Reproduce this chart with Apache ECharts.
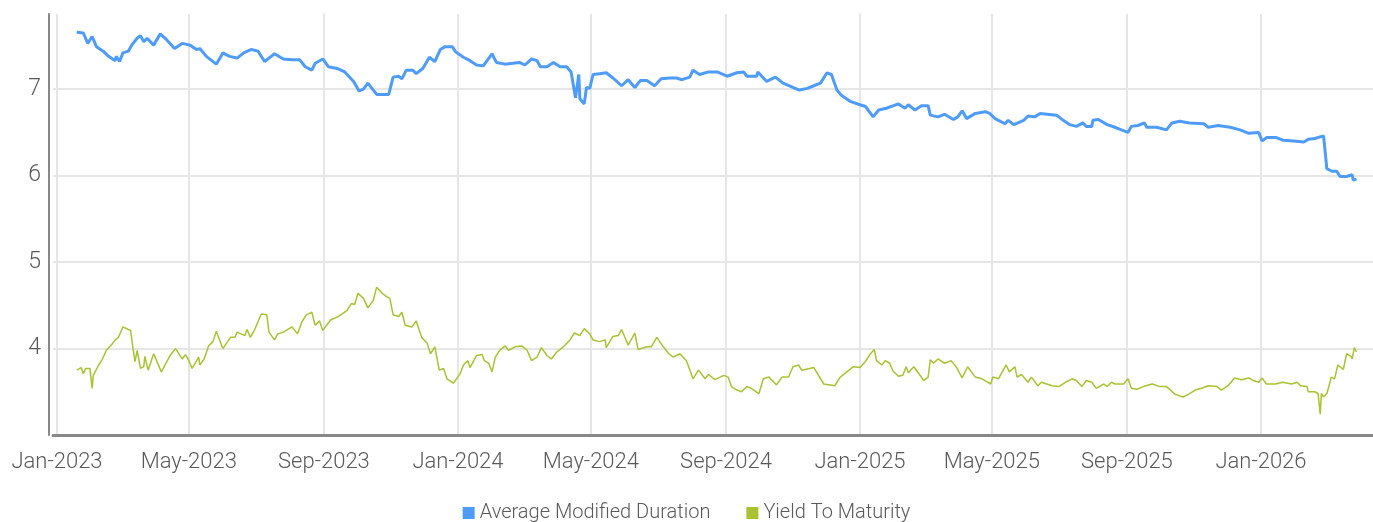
<!DOCTYPE html>
<html>
<head>
<meta charset="utf-8">
<title>Duration and Yield</title>
<script src="https://cdn.jsdelivr.net/npm/echarts@6/dist/echarts.min.js"></script>
<style>
  html, body { margin: 0; padding: 0; background: #fff; }
  #main { width: 1373px; height: 522px; }
</style>
</head>
<body>
<div id="main"></div>
<script>
// series names
var seriesNames = ['Average Modified Duration', 'Yield To Maturity'];

// average modified duration
var durDates = [
  '2023-01-19','2023-01-25','2023-01-29','2023-02-02','2023-02-06','2023-02-12','2023-02-17','2023-02-23','2023-02-24','2023-02-27',
  '2023-03-02','2023-03-07','2023-03-10','2023-03-15','2023-03-18','2023-03-21','2023-03-24','2023-03-30','2023-04-05','2023-04-11',
  '2023-04-18','2023-04-25','2023-05-02','2023-05-08','2023-05-11','2023-05-17','2023-05-26','2023-06-01','2023-06-07','2023-06-14',
  '2023-06-20','2023-06-27','2023-07-03','2023-07-09','2023-07-15','2023-07-18','2023-07-26','2023-08-03','2023-08-10','2023-08-15',
  '2023-08-21','2023-08-24','2023-08-31','2023-09-05','2023-09-13','2023-09-20','2023-09-28','2023-10-03','2023-10-07','2023-10-11',
  '2023-10-19','2023-10-30','2023-11-03','2023-11-08','2023-11-11','2023-11-15','2023-11-21','2023-11-24','2023-11-30','2023-12-06',
  '2023-12-11','2023-12-16','2023-12-20','2023-12-27','2023-12-30','2024-01-06','2024-01-12','2024-01-18','2024-01-24','2024-02-01',
  '2024-02-05','2024-02-13','2024-02-20','2024-02-26','2024-03-02','2024-03-08','2024-03-13','2024-03-16','2024-03-22','2024-03-28',
  '2024-04-03','2024-04-09','2024-04-13','2024-04-17','2024-04-20','2024-04-21','2024-04-25','2024-04-27','2024-04-30','2024-05-03',
  '2024-05-09','2024-05-15','2024-05-21','2024-05-29','2024-06-04','2024-06-10','2024-06-15','2024-06-21','2024-06-28','2024-07-04',
  '2024-07-12','2024-07-18','2024-07-23','2024-07-30','2024-08-02','2024-08-08','2024-08-16','2024-08-24','2024-09-02','2024-09-11',
  '2024-09-17','2024-09-20','2024-09-29','2024-09-30','2024-10-08','2024-10-16','2024-10-23','2024-11-01','2024-11-07','2024-11-14',
  '2024-11-20','2024-11-26','2024-12-02','2024-12-06','2024-12-11','2024-12-15','2024-12-23','2025-01-01','2025-01-06','2025-01-13',
  '2025-01-18','2025-01-25','2025-02-05','2025-02-11','2025-02-14','2025-02-20','2025-02-26','2025-03-04','2025-03-06','2025-03-13',
  '2025-03-19','2025-03-27','2025-03-31','2025-04-04','2025-04-08','2025-04-16','2025-04-25','2025-04-29','2025-05-04','2025-05-13',
  '2025-05-16','2025-05-21','2025-05-30','2025-06-03','2025-06-09','2025-06-14','2025-06-29','2025-07-05','2025-07-11','2025-07-17',
  '2025-07-23','2025-07-26','2025-07-31','2025-08-01','2025-08-06','2025-08-14','2025-08-21','2025-08-27','2025-09-02','2025-09-05',
  '2025-09-11','2025-09-17','2025-09-19','2025-09-28','2025-10-07','2025-10-12','2025-10-19','2025-10-28','2025-11-10','2025-11-14',
  '2025-11-23','2025-12-04','2025-12-13','2025-12-21','2025-12-30','2026-01-02','2026-01-06','2026-01-15','2026-01-21','2026-01-31',
  '2026-02-09','2026-02-13','2026-02-19','2026-02-27','2026-03-02','2026-03-07','2026-03-11','2026-03-14','2026-03-20','2026-03-25',
  '2026-03-26','2026-03-29'
];
var durValues = [
  7.66,7.65,7.53,7.61,7.49,7.44,7.38,7.33,7.38,7.32,
  7.42,7.44,7.51,7.59,7.62,7.55,7.59,7.51,7.64,7.57,
  7.47,7.53,7.51,7.46,7.47,7.38,7.29,7.42,7.38,7.36,
  7.42,7.46,7.44,7.32,7.38,7.41,7.35,7.34,7.34,7.26,
  7.22,7.30,7.35,7.26,7.24,7.20,7.09,6.98,7.00,7.07,
  6.94,6.94,7.14,7.15,7.12,7.22,7.22,7.18,7.24,7.37,
  7.32,7.46,7.49,7.49,7.43,7.37,7.33,7.28,7.27,7.41,
  7.31,7.29,7.30,7.31,7.28,7.35,7.33,7.26,7.26,7.31,
  7.26,7.26,7.20,6.90,7.17,6.89,6.83,7.02,7.01,7.17,
  7.18,7.19,7.13,7.04,7.11,7.02,7.10,7.10,7.04,7.12,
  7.13,7.13,7.11,7.14,7.22,7.17,7.20,7.20,7.15,7.19,
  7.20,7.15,7.15,7.20,7.09,7.14,7.07,7.02,6.99,7.01,
  7.04,7.07,7.19,7.17,6.99,6.93,6.86,6.82,6.80,6.68,
  6.76,6.78,6.83,6.78,6.82,6.76,6.81,6.81,6.70,6.68,
  6.71,6.65,6.68,6.75,6.66,6.72,6.74,6.72,6.66,6.60,
  6.64,6.59,6.64,6.69,6.68,6.72,6.70,6.64,6.59,6.57,
  6.61,6.57,6.57,6.64,6.65,6.59,6.56,6.53,6.50,6.57,
  6.58,6.61,6.56,6.56,6.53,6.61,6.63,6.61,6.60,6.56,
  6.58,6.56,6.53,6.49,6.50,6.40,6.44,6.44,6.41,6.40,
  6.39,6.42,6.43,6.46,6.08,6.05,6.05,5.99,5.99,6.01,
  5.95,5.96
];

// yield to maturity
var ytmDates = [
  '2023-01-19','2023-01-23','2023-01-25','2023-01-27','2023-01-31','2023-02-02','2023-02-03','2023-02-08','2023-02-11','2023-02-15',
  '2023-02-20','2023-02-23','2023-02-26','2023-03-02','2023-03-07','2023-03-09','2023-03-11','2023-03-13','2023-03-15','2023-03-18',
  '2023-03-21','2023-03-22','2023-03-25','2023-03-30','2023-04-06','2023-04-14','2023-04-19','2023-04-25','2023-04-28','2023-05-01',
  '2023-05-04','2023-05-10','2023-05-11','2023-05-15','2023-05-19','2023-05-23','2023-05-26','2023-06-01','2023-06-08','2023-06-12',
  '2023-06-14','2023-06-21','2023-06-23','2023-06-26','2023-06-30','2023-07-06','2023-07-11','2023-07-13','2023-07-18','2023-07-21',
  '2023-07-26','2023-08-03','2023-08-08','2023-08-12','2023-08-16','2023-08-21','2023-08-24','2023-08-28','2023-08-31','2023-09-07',
  '2023-09-14','2023-09-22','2023-09-26','2023-09-29','2023-10-02','2023-10-07','2023-10-11','2023-10-16','2023-10-19','2023-10-24',
  '2023-10-28','2023-10-31','2023-11-03','2023-11-08','2023-11-11','2023-11-14','2023-11-20','2023-11-24','2023-11-29','2023-12-04',
  '2023-12-07','2023-12-11','2023-12-15','2023-12-19','2023-12-22','2023-12-28','2024-01-03','2024-01-06','2024-01-10','2024-01-12',
  '2024-01-18','2024-01-23','2024-01-25','2024-01-29','2024-02-01','2024-02-04','2024-02-08','2024-02-13','2024-02-16','2024-02-22',
  '2024-02-28','2024-03-04','2024-03-08','2024-03-13','2024-03-17','2024-03-22','2024-03-26','2024-03-31','2024-04-06','2024-04-12',
  '2024-04-16','2024-04-21','2024-04-25','2024-04-30','2024-05-03','2024-05-09','2024-05-14','2024-05-15','2024-05-21','2024-05-26',
  '2024-05-29','2024-06-04','2024-06-10','2024-06-13','2024-06-21','2024-06-25','2024-06-30','2024-07-06','2024-07-11','2024-07-15',
  '2024-07-21','2024-07-27','2024-08-02','2024-08-07','2024-08-13','2024-08-16','2024-08-22','2024-08-30','2024-09-03','2024-09-06',
  '2024-09-11','2024-09-15','2024-09-20','2024-09-24','2024-10-01','2024-10-05','2024-10-10','2024-10-17','2024-10-22','2024-10-28',
  '2024-11-01','2024-11-06','2024-11-09','2024-11-20','2024-11-29','2024-12-09','2024-12-14','2024-12-26','2025-01-01','2025-01-06',
  '2025-01-10','2025-01-14','2025-01-16','2025-01-21','2025-01-24','2025-01-28','2025-01-31','2025-02-05','2025-02-09','2025-02-12',
  '2025-02-14','2025-02-19','2025-02-23','2025-02-28','2025-03-04','2025-03-06','2025-03-09','2025-03-13','2025-03-19','2025-03-25',
  '2025-03-30','2025-04-04','2025-04-09','2025-04-16','2025-04-22','2025-04-26','2025-04-30','2025-05-02','2025-05-07','2025-05-14',
  '2025-05-17','2025-05-22','2025-05-24','2025-05-28','2025-06-03','2025-06-06','2025-06-12','2025-06-15','2025-06-25','2025-07-01',
  '2025-07-07','2025-07-13','2025-07-17','2025-07-22','2025-07-26','2025-07-31','2025-08-04','2025-08-11','2025-08-14','2025-08-18',
  '2025-08-21','2025-08-29','2025-09-02','2025-09-05','2025-09-10','2025-09-16','2025-09-24','2025-10-01','2025-10-07','2025-10-15',
  '2025-10-22','2025-10-27','2025-11-02','2025-11-08','2025-11-14','2025-11-22','2025-11-26','2025-12-02','2025-12-08','2025-12-14',
  '2025-12-21','2025-12-25','2025-12-30','2026-01-02','2026-01-06','2026-01-14','2026-01-21','2026-01-29','2026-02-03','2026-02-06',
  '2026-02-12','2026-02-13','2026-02-19','2026-02-22','2026-02-24','2026-02-25','2026-02-27','2026-03-02','2026-03-04','2026-03-06',
  '2026-03-09','2026-03-12','2026-03-17','2026-03-20','2026-03-24','2026-03-25','2026-03-27','2026-03-29'
];
var ytmValues = [
  3.75,3.78,3.71,3.77,3.77,3.54,3.69,3.81,3.87,3.98,
  4.05,4.10,4.13,4.25,4.22,4.21,4.02,3.85,3.98,3.77,
  3.79,3.91,3.75,3.94,3.73,3.92,4.00,3.88,3.93,3.86,
  3.77,3.90,3.81,3.88,4.03,4.08,4.20,4.00,4.13,4.13,
  4.19,4.15,4.22,4.13,4.22,4.40,4.39,4.19,4.10,4.17,
  4.19,4.25,4.17,4.31,4.39,4.42,4.27,4.32,4.21,4.33,
  4.37,4.44,4.52,4.51,4.64,4.58,4.47,4.56,4.71,4.64,
  4.60,4.58,4.39,4.37,4.42,4.27,4.25,4.32,4.13,4.06,
  3.94,4.02,3.75,3.77,3.65,3.60,3.71,3.81,3.86,3.78,
  3.92,3.93,3.86,3.83,3.73,3.90,3.98,4.03,3.98,4.02,
  4.03,3.98,3.86,3.90,4.01,3.92,3.88,3.96,4.02,4.10,
  4.18,4.15,4.23,4.17,4.10,4.08,4.10,4.01,4.14,4.15,
  4.22,4.04,4.18,3.99,4.02,4.02,4.13,4.02,3.94,3.90,
  3.94,3.86,3.65,3.75,3.65,3.70,3.64,3.69,3.67,3.56,
  3.52,3.50,3.56,3.54,3.48,3.65,3.67,3.58,3.67,3.67,
  3.79,3.81,3.75,3.78,3.59,3.57,3.67,3.79,3.78,3.85,
  3.93,3.99,3.86,3.81,3.86,3.83,3.74,3.68,3.69,3.79,
  3.72,3.79,3.72,3.63,3.67,3.87,3.83,3.88,3.83,3.86,
  3.78,3.66,3.79,3.67,3.65,3.62,3.59,3.67,3.65,3.81,
  3.73,3.79,3.67,3.70,3.61,3.67,3.57,3.61,3.57,3.56,
  3.61,3.65,3.63,3.56,3.63,3.61,3.54,3.59,3.56,3.61,
  3.59,3.59,3.65,3.54,3.53,3.56,3.59,3.56,3.56,3.47,
  3.44,3.47,3.52,3.54,3.57,3.56,3.52,3.57,3.66,3.64,
  3.66,3.63,3.61,3.66,3.59,3.59,3.61,3.59,3.61,3.57,
  3.56,3.50,3.50,3.48,3.24,3.48,3.44,3.48,3.57,3.67,
  3.65,3.81,3.76,3.94,3.91,3.88,4.01,3.96
];

// x axis labels every four months
var tickDates = ['2023-01-01','2023-05-01','2023-09-01','2024-01-01','2024-05-01','2024-09-01','2025-01-01','2025-05-01','2025-09-01','2026-01-01'];
var monthNames = ['Jan','Feb','Mar','Apr','May','Jun','Jul','Aug','Sep','Oct','Nov','Dec'];

function toTime(s) {
    var p = s.split('-');
    return new Date(+p[0], +p[1] - 1, +p[2]).getTime();
}

function pairs(dates, values) {
    return dates.map(function (d, i) { return [toTime(d), values[i]]; });
}

var tickValues = tickDates.map(toTime);
var fontName = 'Roboto';
var labelColor = '#5a5a5a';

var chart = echarts.init(document.getElementById('main'));
chart.setOption({
    animation: false,
    color: ['#4e9cf8', '#a8c232'],
    grid: { left: 53, right: 0, top: 14, bottom: 87 },
    legend: {
        data: seriesNames,
        bottom: -6,
        left: 'center',
        icon: 'rect',
        itemWidth: 12,
        itemHeight: 12,
        itemGap: 36,
        textStyle: { color: labelColor, fontFamily: fontName, fontWeight: 300, fontSize: 20 }
    },
    // dates kept as timestamps on a value axis so the label positions can be fixed
    xAxis: {
        type: 'value',
        min: new Date(2022, 11, 28, 9).getTime(),
        max: new Date(2026, 3, 13).getTime(),
        axisLine: { show: true, lineStyle: { color: '#888', width: 3 } },
        axisTick: { show: false, customValues: tickValues },
        axisLabel: {
            customValues: tickValues,
            margin: 16,
            color: labelColor,
            fontFamily: fontName,
            fontWeight: 300,
            fontSize: 22,
            formatter: function (val) {
                var d = new Date(val);
                return monthNames[d.getMonth()] + '-' + d.getFullYear();
            }
        },
        splitLine: { show: true, lineStyle: { color: '#e6e6e6', width: 2 } }
    },
    yAxis: {
        type: 'value',
        min: 3,
        max: 7.87,
        interval: 1,
        offset: 4,
        axisLine: { show: true, lineStyle: { color: '#888', width: 2 } },
        axisTick: { show: false },
        axisLabel: {
            showMinLabel: false,
            showMaxLabel: false,
            margin: 8,
            color: labelColor,
            fontFamily: fontName,
            fontWeight: 300,
            fontSize: 23
        },
        splitLine: { show: true, showMinLine: false, showMaxLine: false, lineStyle: { color: '#e6e6e6', width: 2 } }
    },
    series: [
        {
            name: seriesNames[0],
            type: 'line',
            showSymbol: false,
            lineStyle: { width: 3 },
            data: pairs(durDates, durValues)
        },
        {
            name: seriesNames[1],
            type: 'line',
            showSymbol: false,
            lineStyle: { width: 1.5 },
            data: pairs(ytmDates, ytmValues)
        }
    ]
});
</script>
</body>
</html>
